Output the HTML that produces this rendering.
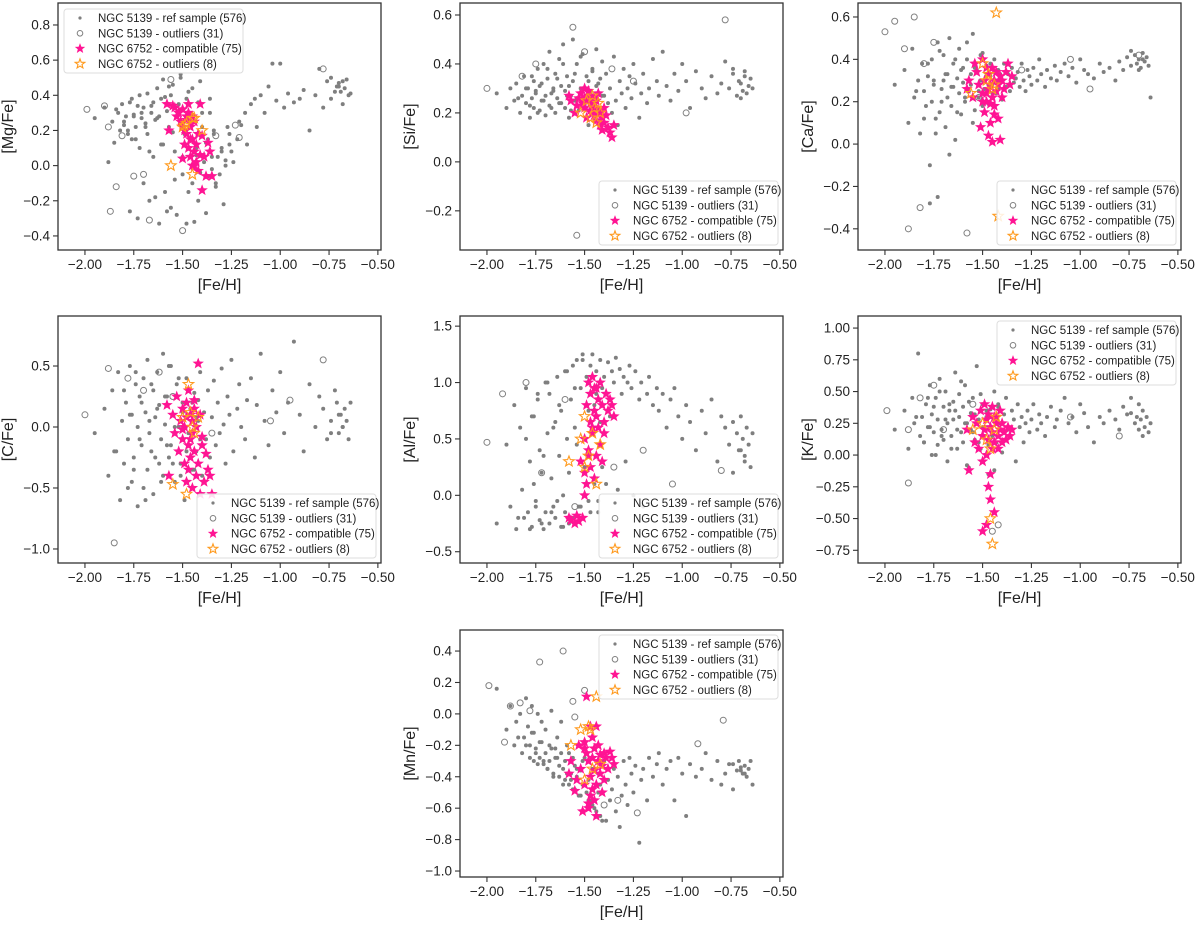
<!DOCTYPE html>
<html><head><meta charset="utf-8"><style>
body{margin:0;background:#fff;width:1200px;height:920px;overflow:hidden}
svg{font-family:"Liberation Sans",Arial,sans-serif}
</style></head><body>
<svg id="fig" width="1200" height="920" xmlns="http://www.w3.org/2000/svg"></svg>
<script>
const feH=[-1.95,-1.90,-1.88,-1.86,-1.85,-1.83,-1.82,-1.81,-1.80,-1.79,-1.78,-1.77,-1.76,-1.76,-1.75,-1.74,-1.73,-1.73,-1.72,-1.71,-1.70,-1.70,-1.69,-1.68,-1.68,-1.67,-1.66,-1.65,-1.65,-1.64,-1.63,-1.62,-1.62,-1.61,-1.60,-1.60,-1.59,-1.58,-1.57,-1.56,-1.56,-1.55,-1.54,-1.53,-1.52,-1.51,-1.50,-1.49,-1.48,-1.47,-1.46,-1.45,-1.44,-1.43,-1.42,-1.41,-1.40,-1.39,-1.38,-1.37,-1.36,-1.35,-1.34,-1.33,-1.32,-1.31,-1.30,-1.29,-1.28,-1.27,-1.26,-1.25,-1.24,-1.22,-1.21,-1.20,-1.18,-1.17,-1.15,-1.13,-1.12,-1.10,-1.08,-1.06,-1.04,-1.02,-1.00,-0.98,-0.96,-0.93,-0.90,-0.88,-0.85,-0.82,-0.80,-0.78,-0.76,-0.74,-0.72,-0.71,-0.70,-0.69,-0.68,-0.67,-0.66,-0.65,-0.64,-0.74,-0.70,-0.68,-1.84,-1.80,-1.78,-1.77,-1.75,-1.74,-1.72,-1.71,-1.69,-1.67,-1.66,-1.64,-1.63,-1.61,-1.59,-1.58,-1.57,-1.55,-1.54,-1.52,-1.51,-1.50,-1.48,-1.47,-1.46,-1.45,-1.44,-1.43,-1.42,-1.41,-1.40,-1.38,-1.37,-1.36,-1.35,-1.34,-1.33,-1.30,-1.28,-1.26];
const mgY=[0.27,0.33,0.02,0.25,0.13,0.30,0.20,0.35,0.23,0.28,0.18,-0.26,0.38,0.15,0.29,0.22,-0.30,0.34,0.10,0.27,0.33,-0.10,0.24,0.41,0.18,-0.20,0.30,0.36,0.05,0.26,0.44,-0.33,0.28,0.38,0.12,0.49,-0.15,0.31,0.22,0.40,-0.24,0.46,0.08,-0.28,0.35,0.52,-0.05,0.18,-0.33,0.42,0.25,-0.10,0.55,0.06,-0.20,0.48,0.30,0.02,-0.27,0.15,0.38,-0.02,0.20,-0.12,0.05,-0.05,0.10,-0.22,0.00,0.22,0.18,0.08,0.02,0.15,0.25,0.23,0.30,0.12,0.35,0.38,0.22,0.40,0.30,0.45,0.58,0.37,0.58,0.33,0.41,0.36,0.38,0.43,0.20,0.40,0.55,0.33,0.48,0.50,0.42,0.45,0.47,0.42,0.48,0.44,0.49,0.40,0.41,0.38,0.45,0.35,0.32,0.25,0.20,0.36,0.28,0.15,0.40,0.30,0.22,0.08,0.34,-0.18,0.27,0.12,0.39,-0.26,0.45,0.19,-0.08,0.31,0.50,0.05,0.38,-0.15,0.26,0.44,-0.32,0.10,0.36,-0.04,0.22,0.13,-0.06,0.30,0.05,0.18,-0.10,0.08,0.03,0.12];
const siY=[0.28,0.22,0.30,0.25,0.32,0.20,0.27,0.35,0.24,0.30,0.18,0.26,0.33,0.22,0.29,0.38,0.21,0.31,0.25,0.40,0.27,0.19,0.34,0.23,0.45,0.28,0.30,0.20,0.36,0.26,0.42,0.24,0.31,0.48,0.22,0.29,0.35,0.18,0.27,0.50,0.33,0.25,0.40,0.21,0.30,0.44,0.26,0.35,0.15,0.28,0.38,0.22,0.46,0.32,0.19,0.41,0.27,0.36,0.24,0.30,0.20,0.43,0.25,0.15,0.33,0.28,0.38,0.22,0.30,0.35,0.26,0.40,0.32,0.18,0.28,0.36,0.24,0.30,0.42,0.33,0.27,0.45,0.31,0.25,0.36,0.29,0.40,0.33,0.22,0.37,0.30,0.26,0.35,0.28,0.32,0.41,0.30,0.36,0.27,0.33,0.32,0.29,0.37,0.28,0.31,0.34,0.30,0.38,0.26,0.35,0.26,0.30,0.23,0.35,0.28,0.20,0.32,0.25,0.38,0.22,0.29,0.34,0.24,0.40,0.27,0.31,0.21,0.36,0.26,0.43,0.30,0.23,0.33,0.28,0.37,0.25,0.31,0.19,0.34,0.27];
const caY=[0.28,0.35,0.10,0.45,0.22,0.30,0.05,0.38,0.25,0.18,0.32,-0.28,0.40,0.20,0.28,0.12,-0.25,0.48,0.15,0.26,0.30,0.42,0.08,0.33,0.22,0.50,0.18,0.27,0.38,0.02,0.31,0.24,0.45,0.14,0.29,0.36,0.20,0.40,0.25,0.33,0.28,0.52,0.16,0.35,0.22,0.30,0.43,0.26,0.37,0.19,0.32,0.28,0.40,0.24,0.35,0.30,0.21,0.38,0.27,0.33,0.25,0.36,0.29,0.31,0.34,0.27,0.38,0.30,0.25,0.35,0.32,0.28,0.36,0.30,0.40,0.33,0.27,0.35,0.31,0.37,0.30,0.34,0.38,0.32,0.36,0.29,0.40,0.35,0.33,0.31,0.38,0.34,0.36,0.30,0.39,0.35,0.41,0.37,0.42,0.38,0.40,0.36,0.43,0.39,0.41,0.37,0.22,0.44,0.35,0.40,0.25,0.12,0.38,-0.10,0.30,0.05,0.44,0.20,0.33,-0.05,0.27,0.40,0.15,0.35,0.22,0.48,0.30,0.10,0.36,0.25,0.42,0.18,0.32,0.28,0.38,0.24,0.34,0.30,0.26,0.33];
const cY=[-0.05,0.15,-0.40,0.30,-0.20,0.45,-0.60,0.05,-0.30,0.20,-0.10,0.50,-0.45,0.10,-0.25,0.35,-0.65,0.00,0.25,-0.15,0.40,-0.50,0.12,-0.35,0.55,-0.05,-0.20,0.30,-0.55,0.08,0.45,-0.30,0.18,-0.10,0.60,-0.40,0.02,0.25,-0.25,0.50,-0.15,0.10,-0.45,0.35,0.00,-0.30,0.20,-0.60,0.40,-0.05,0.15,-0.35,0.28,-0.20,0.05,0.45,-0.40,0.12,-0.10,0.30,-0.25,0.08,0.38,-0.15,0.20,-0.05,0.48,0.02,-0.30,0.25,0.10,0.55,-0.20,0.15,0.35,0.00,-0.10,0.22,0.40,-0.25,0.18,0.60,0.05,-0.15,0.30,0.12,0.45,-0.05,0.20,0.70,0.10,-0.20,0.35,0.00,0.25,0.15,-0.10,0.05,0.30,0.20,-0.05,0.10,0.00,0.15,0.05,-0.10,0.20,-0.05,0.10,0.00,-0.20,0.30,-0.50,0.10,-0.35,0.45,-0.10,0.20,-0.60,0.05,0.35,-0.25,0.15,-0.45,0.25,-0.15,0.50,-0.30,0.00,0.40,-0.40,0.12,-0.20,0.30,-0.05,0.20,-0.35,0.08,0.22,-0.10];
const alY=[-0.25,0.45,-0.10,0.80,-0.30,0.60,0.05,-0.20,0.95,-0.15,0.30,-0.28,0.70,0.10,-0.05,0.85,-0.22,0.40,0.20,-0.30,1.00,-0.15,0.55,-0.25,0.90,0.15,-0.10,0.65,-0.20,1.05,0.35,-0.28,0.75,0.00,1.10,-0.15,0.50,-0.25,0.85,1.15,-0.20,0.60,1.20,-0.10,0.95,1.25,0.25,1.05,-0.05,1.15,1.25,0.80,1.10,-0.15,1.20,0.95,1.05,0.10,1.18,0.70,1.10,1.00,1.22,0.05,1.12,0.90,1.05,0.30,1.00,1.15,0.95,0.00,1.10,0.85,1.00,-0.10,0.90,1.05,0.80,0.95,0.75,0.90,0.60,0.85,0.95,0.70,0.50,0.80,0.65,0.40,0.75,0.55,0.85,0.30,0.70,0.60,0.45,0.65,0.55,0.40,0.70,0.50,0.35,0.60,0.45,0.25,0.55,0.20,0.40,0.30,-0.20,0.50,-0.30,0.70,-0.10,0.90,-0.25,0.35,1.00,-0.15,0.60,-0.05,0.80,-0.28,1.10,0.20,-0.20,0.95,0.45,-0.10,1.20,0.00,0.75,-0.15,1.05,0.10,0.90,-0.05,0.65,0.25];
const kY=[0.20,0.35,0.05,0.45,0.25,0.80,0.15,0.30,0.10,0.40,0.22,0.55,0.00,0.32,0.18,0.45,0.28,0.08,0.60,0.20,0.38,0.12,0.50,0.25,-0.05,0.35,0.15,0.42,0.28,0.65,0.05,0.30,0.48,0.18,0.38,0.10,0.55,0.25,-0.10,0.33,0.20,0.45,0.12,0.70,0.28,0.05,0.40,0.22,0.35,-0.15,0.30,0.18,0.50,0.10,0.38,0.25,0.02,0.32,0.45,0.20,0.15,0.35,0.28,-0.05,0.40,0.22,0.30,0.10,0.25,0.35,0.18,0.28,0.40,0.20,0.32,0.25,0.15,0.30,0.38,0.22,0.28,0.35,0.45,0.25,0.30,0.18,0.40,0.33,0.22,0.10,0.30,0.25,0.35,0.28,0.20,0.38,0.32,0.45,0.25,0.30,0.40,0.28,0.35,0.22,0.30,0.18,0.25,0.33,0.20,0.15,0.30,0.10,0.45,0.22,0.38,0.00,0.50,0.15,0.28,0.40,0.05,0.35,0.20,0.58,0.25,-0.08,0.42,0.18,0.32,0.10,0.48,0.22,0.30,0.08,0.36,0.15,-0.12,0.25,0.40,0.20];
const mnY=[0.16,-0.10,0.05,-0.20,-0.05,0.00,-0.25,-0.15,0.10,-0.08,-0.20,0.05,-0.30,-0.12,-0.22,0.00,-0.28,-0.18,-0.05,-0.32,-0.25,-0.10,-0.35,-0.20,-0.30,0.02,-0.38,-0.22,-0.28,-0.15,-0.40,-0.25,-0.05,-0.35,-0.42,-0.30,-0.20,-0.45,-0.38,-0.28,-0.48,-0.33,-0.40,-0.52,-0.36,-0.45,-0.28,-0.50,-0.42,-0.55,-0.35,-0.60,-0.45,-0.38,-0.65,-0.50,-0.30,-0.68,-0.42,-0.55,-0.48,-0.35,-0.62,-0.40,-0.72,-0.52,-0.30,-0.45,-0.58,-0.28,-0.38,-0.50,-0.33,-0.82,-0.42,-0.35,-0.55,-0.28,-0.40,-0.32,-0.25,-0.45,-0.35,-0.30,-0.55,-0.28,-0.38,-0.65,-0.32,-0.40,-0.35,-0.25,-0.42,-0.30,-0.45,-0.38,-0.32,-0.48,-0.36,-0.30,-0.34,-0.38,-0.33,-0.40,-0.35,-0.30,-0.45,-0.32,-0.36,-0.38,-0.15,-0.20,-0.28,-0.12,-0.25,-0.32,-0.18,-0.30,-0.35,-0.22,-0.40,-0.28,-0.33,-0.45,-0.38,-0.25,-0.42,-0.48,-0.35,-0.52,-0.30,-0.45,-0.55,-0.40,-0.58,-0.35,-0.62,-0.50,-0.45,-0.68];
const starFe=[-1.58,-1.57,-1.55,-1.54,-1.53,-1.52,-1.51,-1.50,-1.50,-1.49,-1.49,-1.48,-1.48,-1.47,-1.47,-1.47,-1.46,-1.46,-1.45,-1.45,-1.45,-1.44,-1.44,-1.43,-1.43,-1.42,-1.42,-1.41,-1.41,-1.40,-1.40,-1.39,-1.38,-1.37,-1.36,-1.35,-1.48,-1.46,-1.44,-1.50];
const mgStar=[0.35,0.20,0.34,0.33,0.28,0.30,0.25,0.22,0.32,0.12,0.20,0.18,0.28,0.10,0.30,0.35,0.05,0.22,0.00,0.15,0.28,0.08,0.25,0.02,0.12,0.18,-0.03,0.06,0.35,0.17,-0.14,0.05,-0.06,0.13,0.08,-0.06,0.26,0.15,0.00,0.04];
const siStar=[0.27,0.25,0.20,0.23,0.26,0.28,0.24,0.22,0.30,0.26,0.18,0.25,0.29,0.21,0.27,0.24,0.23,0.20,0.26,0.22,0.19,0.25,0.17,0.21,0.28,0.15,0.20,0.13,0.18,0.22,0.16,0.19,0.14,0.12,0.10,0.15,0.27,0.24,0.22,0.26];
const caStar=[0.26,0.30,0.22,0.38,0.34,0.28,0.08,0.24,0.40,0.15,0.30,0.36,0.20,0.26,0.04,0.33,0.10,0.28,0.22,0.36,0.01,0.30,0.18,0.25,0.34,0.12,0.28,0.02,0.32,0.22,0.30,0.26,0.34,0.38,0.28,0.32,0.24,0.19,0.14,0.20];
const cStar=[0.18,-0.40,0.10,-0.05,0.25,-0.20,0.05,-0.10,0.15,-0.30,0.00,0.20,-0.45,-0.15,0.30,-0.35,0.10,-0.25,-0.05,0.05,-0.50,0.15,-0.20,0.00,-0.40,0.52,-0.30,-0.55,0.10,-0.15,-0.08,-0.45,-0.22,-0.35,-0.40,-0.55,0.08,-0.10,0.22,-0.02];
const alStar=[-0.20,-0.22,-0.25,-0.18,-0.23,0.30,-0.20,0.50,0.20,0.80,0.10,1.00,0.40,0.65,0.90,0.25,1.05,0.55,0.75,0.15,0.95,0.35,0.70,0.85,0.60,0.45,1.00,0.30,0.80,0.55,0.65,0.90,0.75,0.85,0.80,0.70,0.35,0.60,0.95,0.00];
const kStar=[0.20,-0.12,0.30,0.10,0.25,0.05,0.35,-0.05,0.15,0.40,0.20,0.00,0.28,-0.25,0.12,0.32,-0.35,0.22,0.05,0.38,0.18,-0.45,0.10,0.25,0.30,0.15,0.05,0.20,0.35,0.10,0.25,0.18,0.12,0.22,0.15,0.20,-0.55,-0.15,0.30,-0.60];
const mnStar=[-0.38,-0.30,-0.49,-0.42,-0.20,-0.35,-0.62,-0.18,-0.45,-0.25,0.11,-0.57,-0.30,-0.08,-0.40,-0.52,-0.15,-0.28,-0.55,-0.36,-0.22,-0.65,-0.45,-0.20,-0.30,-0.26,-0.38,-0.50,-0.33,-0.25,-0.42,-0.28,-0.35,-0.24,-0.28,-0.32,-0.60,-0.48,-0.08,-0.22];
const mgOutX=[-1.56,-1.50,-1.49,-1.45,-1.44,-1.40,-1.45,-1.48], mgOutY=[0.00,0.22,0.23,0.27,0.27,0.20,-0.05,0.24];
const siOutX=[-1.52,-1.49,-1.47,-1.45,-1.44,-1.43,-1.42,-1.46], siOutY=[0.20,0.25,0.18,0.22,0.16,0.24,0.20,0.27];
const caOutX=[-1.56,-1.50,-1.48,-1.45,-1.43,-1.42,-1.44,-1.47], caOutY=[0.24,0.38,0.30,0.26,0.62,-0.34,0.28,0.33];
const cOutX=[-1.55,-1.50,-1.47,-1.45,-1.44,-1.42,-1.48,-1.46], cOutY=[-0.47,0.08,0.35,0.00,-0.05,0.08,-0.55,0.12];
const alOutX=[-1.58,-1.52,-1.50,-1.48,-1.46,-1.44,-1.42,-1.50], alOutY=[0.30,0.50,0.25,0.35,0.55,0.10,0.45,0.70];
const kOutX=[-1.55,-1.50,-1.48,-1.46,-1.45,-1.44,-1.43,-1.46], kOutY=[0.20,0.25,0.12,-0.50,-0.70,0.20,0.30,0.05];
const mnOutX=[-1.57,-1.52,-1.50,-1.48,-1.46,-1.44,-1.42,-1.47], mnOutY=[-0.20,-0.10,-0.42,-0.08,-0.35,0.11,-0.32,-0.10];
const mgCircX=[-1.99,-1.90,-1.88,-1.84,-1.81,-1.75,-1.70,-1.67,-1.56,-1.50,-1.33,-1.23,-1.21,-0.78,-1.87], mgCircY=[0.32,0.34,0.22,-0.12,0.17,-0.06,-0.05,-0.31,0.49,-0.37,0.17,0.23,0.16,0.55,-0.26];
const siCircX=[-2.0,-1.82,-1.75,-1.56,-1.50,-1.36,-1.25,-0.98,-0.78,-1.54], siCircY=[0.30,0.35,0.40,0.55,0.45,0.38,0.33,0.20,0.58,-0.30];
const caCircX=[-2.0,-1.95,-1.90,-1.85,-1.80,-1.75,-1.88,-1.82,-1.58,-1.52,-1.30,-1.05,-0.95,-0.70], caCircY=[0.53,0.58,0.45,0.60,0.38,0.48,-0.40,-0.30,-0.42,0.22,0.35,0.40,0.26,0.42];
const cCircX=[-2.0,-1.88,-1.85,-1.78,-1.70,-1.62,-1.55,-1.35,-1.05,-0.78,-0.95], cCircY=[0.10,0.48,-0.95,0.40,0.30,0.45,0.25,-0.05,0.05,0.55,0.22];
const alCircX=[-2.0,-1.92,-1.80,-1.72,-1.60,-1.55,-1.35,-1.20,-0.80,-1.05], alCircY=[0.47,0.90,1.00,0.20,0.85,-0.10,0.25,0.40,0.22,0.10];
const kCircX=[-1.99,-1.88,-1.82,-1.75,-1.70,-1.55,-1.45,-1.42,-1.05,-0.80,-1.88], kCircY=[0.35,0.20,0.45,0.55,0.20,0.40,-0.60,-0.55,0.30,0.15,-0.22];
const mnCircX=[-1.99,-1.91,-1.88,-1.83,-1.78,-1.73,-1.61,-1.56,-1.55,-1.50,-1.40,-1.33,-1.23,-0.92,-0.79], mnCircY=[0.18,-0.18,0.05,0.07,0.02,0.33,0.40,0.08,-0.02,0.15,-0.58,-0.55,-0.63,-0.19,-0.04];
const xTicks=[-2.00,-1.75,-1.50,-1.25,-1.00,-0.75,-0.50];
const mgTicks=[-0.4,-0.2,0.0,0.2,0.4,0.6,0.8], siTicks=[-0.2,0.0,0.2,0.4,0.6], caTicks=[-0.4,-0.2,0.0,0.2,0.4,0.6], cTicks=[-1.0,-0.5,0.0,0.5], alTicks=[-0.5,0.0,0.5,1.0,1.5], kTicks=[-0.75,-0.50,-0.25,0.00,0.25,0.50,0.75,1.00], mnTicks=[-1.0,-0.8,-0.6,-0.4,-0.2,0.0,0.2,0.4];
const legendLabels=["NGC 5139 - ref sample (576)","NGC 5139 - outliers (31)","NGC 6752 - compatible (75)","NGC 6752 - outliers (8)"];

const NS="http://www.w3.org/2000/svg";
const fig=document.getElementById('fig');
function mk(tag,attrs,parent){const e=document.createElementNS(NS,tag);for(const k in attrs)e.setAttribute(k,attrs[k]);(parent||fig).appendChild(e);return e;}
function starPath(cx,cy,R){const r=R*0.42;let d="";for(let i=0;i<10;i++){const a=-Math.PI/2+i*Math.PI/5;const rr=i%2?r:R;d+=(i?"L":"M")+(cx+rr*Math.cos(a)).toFixed(1)+","+(cy+rr*Math.sin(a)).toFixed(1);}return d+"Z";}
function fmt(v,dec){return (v<0?"\u2212":"")+Math.abs(v).toFixed(dec);}

const panels=[
 {name:"mg",label:"[Mg/Fe]",L:58,T:3,ylim:[-0.48,0.925],y:mgY,star:mgStar,ox:mgOutX,oy:mgOutY,cx:mgCircX,cy:mgCircY,ticks:mgTicks,dec:1,leg:"ul"},
 {name:"si",label:"[Si/Fe]",L:460,T:3,ylim:[-0.36,0.649],y:siY,star:siStar,ox:siOutX,oy:siOutY,cx:siCircX,cy:siCircY,ticks:siTicks,dec:1,leg:"lr"},
 {name:"ca",label:"[Ca/Fe]",L:858,T:3,ylim:[-0.5,0.666],y:caY,star:caStar,ox:caOutX,oy:caOutY,cx:caCircX,cy:caCircY,ticks:caTicks,dec:1,leg:"lr"},
 {name:"c",label:"[C/Fe]",L:58,T:316,ylim:[-1.115,0.91],y:cY,star:cStar,ox:cOutX,oy:cOutY,cx:cCircX,cy:cCircY,ticks:cTicks,dec:1,leg:"lr"},
 {name:"al",label:"[Al/Fe]",L:460,T:316,ylim:[-0.6,1.59],y:alY,star:alStar,ox:alOutX,oy:alOutY,cx:alCircX,cy:alCircY,ticks:alTicks,dec:1,leg:"lr"},
 {name:"k",label:"[K/Fe]",L:858,T:316,ylim:[-0.85,1.095],y:kY,star:kStar,ox:kOutX,oy:kOutY,cx:kCircX,cy:kCircY,ticks:kTicks,dec:2,leg:"ur"},
 {name:"mn",label:"[Mn/Fe]",L:460,T:630,ylim:[-1.038,0.534],y:mnY,star:mnStar,ox:mnOutX,oy:mnOutY,cx:mnCircX,cy:mnCircY,ticks:mnTicks,dec:1,leg:"ur"}
];
const W=323,H=247,XMIN=-2.138,XMAX=-0.484;
const defs=mk('defs',{});
panels.forEach(p=>{
 const cp=mk('clipPath',{id:'clip-'+p.name},defs);
 mk('rect',{x:p.L,y:p.T,width:W,height:H},cp);
 const g=mk('g',{});
 
 
 const X=v=>p.L+(v-XMIN)/(XMAX-XMIN)*W;
 const Y=v=>p.T+H-(v-p.ylim[0])/(p.ylim[1]-p.ylim[0])*H;
 xTicks.forEach(t=>{const x=X(t);
  mk('line',{x1:x,x2:x,y1:p.T+H,y2:p.T+H+5,stroke:'#333','stroke-width':1.1},g);
  const tx=mk('text',{x:x,y:p.T+H+19,'text-anchor':'middle','font-size':13.5,fill:'#222'},g);tx.textContent=fmt(t,2);
  });
 p.ticks.forEach(t=>{const y=Y(t);
  mk('line',{x1:p.L-5,x2:p.L,y1:y,y2:y,stroke:'#333','stroke-width':1.1},g);
  const tx=mk('text',{x:p.L-8,y:y+4.5,'text-anchor':'end','font-size':13.5,fill:'#222'},g);tx.textContent=fmt(t,p.dec);
  });
 const xl=mk('text',{x:p.L+W/2,y:p.T+H+40,'text-anchor':'middle','font-size':16,fill:'#222'},g);xl.textContent='[Fe/H]';
 
 const yx=p.L-45,yy=p.T+H/2;
 const yl=mk('text',{x:yx,y:yy,'text-anchor':'middle','font-size':16,fill:'#222',transform:`rotate(-90 ${yx} ${yy})`},g);yl.textContent=p.label;
 
 const pg=mk('g',{'clip-path':`url(#clip-${p.name})`},g);
 
 feH.forEach((fx,i)=>{const c=mk('circle',{cx:X(fx),cy:Y(p.y[i]),r:2.0,fill:'#7f7f7f'},pg);
  });
 p.cx.forEach((fx,i)=>{const c=mk('circle',{cx:X(fx),cy:Y(p.cy[i]),r:3,fill:'none',stroke:'#808080','stroke-width':1},pg);
  });
 starFe.forEach((fx,i)=>{const s=mk('path',{d:starPath(X(fx),Y(p.star[i]),6),fill:'#ff1493'},pg);
  });
 p.ox.forEach((fx,i)=>{const s=mk('path',{d:starPath(X(fx),Y(p.oy[i]),5.5),fill:'none',stroke:'#ff9a1e','stroke-width':1.1},pg);
  });
 const fr=mk('rect',{x:p.L,y:p.T,width:W,height:H,fill:'none',stroke:'#333','stroke-width':1.3},g);
 
 const lw=179,lh=64;
 let lx,ly;
 if(p.leg==='ul'){lx=p.L+6;ly=p.T+6;} else if(p.leg==='ur'){lx=p.L+W-lw-5;ly=p.T+5;} else {lx=p.L+W-lw-5;ly=p.T+H-lh-5;}
 const lg=mk('g',{},g);
 
 mk('rect',{x:lx,y:ly,width:lw,height:lh,rx:3,fill:'#fff','fill-opacity':0.85,stroke:'#ddd','stroke-width':1},lg);
 legendLabels.forEach((lab,i)=>{const ry=ly+9+i*15.3,mx=lx+16;
  if(i===0)mk('circle',{cx:mx,cy:ry,r:1.6,fill:'#7f7f7f'},lg);
  if(i===1)mk('circle',{cx:mx,cy:ry,r:2.8,fill:'none',stroke:'#808080'},lg);
  if(i===2)mk('path',{d:starPath(mx,ry,5.5),fill:'#ff1493'},lg);
  if(i===3)mk('path',{d:starPath(mx,ry,5),fill:'none',stroke:'#ff9a1e','stroke-width':1.1},lg);
  const t=mk('text',{x:lx+34,y:ry+4,'font-size':11.5,fill:'#222'},lg);t.textContent=lab;
  });
});
</script>
</body></html>
